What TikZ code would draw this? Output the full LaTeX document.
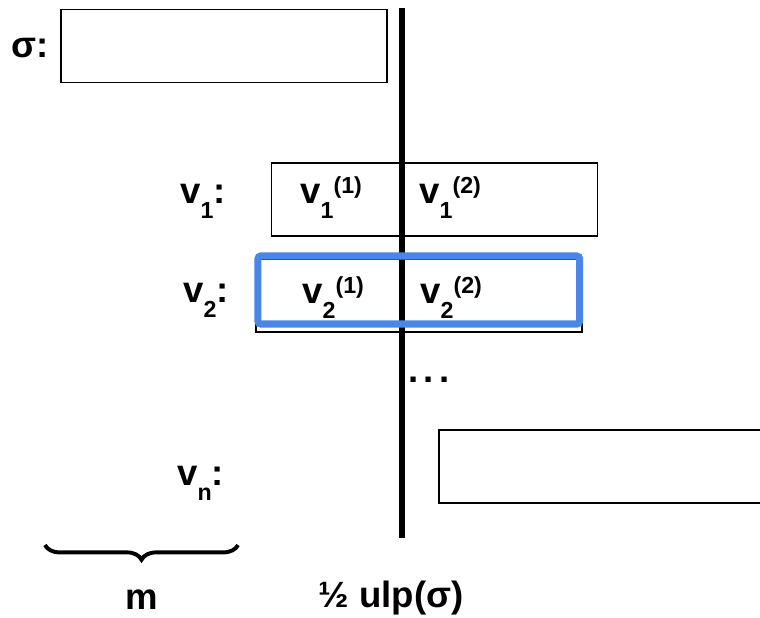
\documentclass[tikz,border=0pt]{standalone}
\usepackage{fontspec}
\setmainfont{Liberation Sans}
\definecolor{MarkBlue}{HTML}{4A86E8}
\usetikzlibrary{decorations.pathreplacing}

% v with a lowered index and a raised part number
\newcommand{\vpart}[2]{v\raisebox{-0.42em}{\fontsize{16.5}{16.5}\selectfont #1}\raisebox{0.27em}{\fontsize{16.5}{16.5}\selectfont #2}}

\begin{document}
\begin{tikzpicture}[
    x=0.025cm, y=-0.025cm,
    box/.style={draw, line width=1.3pt, minimum width=8.15cm, minimum height=1.825cm, inner sep=0pt},
    lab/.style={font=\fontsize{26}{30}\selectfont\bfseries, inner sep=0pt, anchor=base west},
    cut/.style={line width=4.3pt},
    hilite/.style={draw=MarkBlue, line width=5pt, rounded corners=2pt},
    brc/.style={line width=2.8pt, decorate, decoration={brace, mirror, amplitude=10.5pt}}
  ]
    \useasboundingbox (0,0) rectangle (760,617);
    \node[box] (sigma) at (224,46) {};
    \node[box] (v1) at (434.5,199.5) {};
    \node[box] (v2) at (419,295.5) {};
    \node[box] (vn) at (602,466.5) {};
    \coordinate (cuttop) at (402,8);
    \coordinate (cutbot) at (402,538);
    \draw[cut] (cuttop) -- (cutbot);
    \node[hilite, minimum width=8.04cm, minimum height=1.7cm, inner sep=0pt] (hl) at (418.75,290) {};
    \node[lab, anchor=center] (siglab) at (30,48) {σ:};
    \node[lab] (v1lab) at (180,203) {\vpart{1}{}:};
    \node[lab] (v2lab) at (183,302) {\vpart{2}{}:};
    \node[lab] (vnlab) at (177,485) {\vpart{n}{}:};
    \node[lab] (v1a) at (300,203) {\vpart{1}{(1)}};
    \node[lab] (v1b) at (419,203) {\vpart{1}{(2)}};
    \node[lab] (v2a) at (302,303) {\vpart{2}{(1)}};
    \node[lab] (v2b) at (420,303) {\vpart{2}{(2)}};
    \node[lab, anchor=center] (dots) at (429,380) {.\hspace{0.15em}.\hspace{0.15em}.};
    \coordinate (bl) at (45,545);
    \coordinate (br) at (238,545);
    \draw[brc] (bl) -- (br);
    \node[lab, anchor=center] (mlab) at (142,600) {m};
    \node[lab, anchor=center] (ulp) at (391,598) {½ ulp(σ)};
  \end{tikzpicture}
\end{document}
